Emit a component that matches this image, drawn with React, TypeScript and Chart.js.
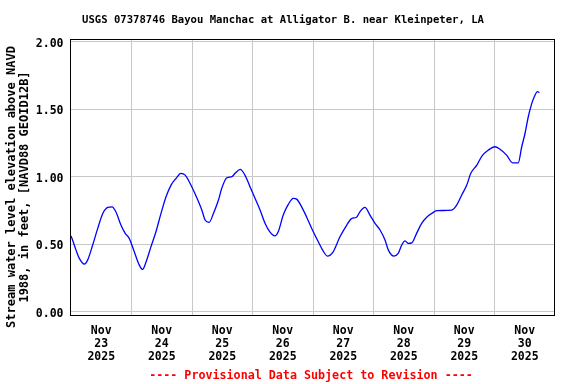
import React, { useEffect, useRef } from "react";
import { Chart, registerables } from "chart.js";

Chart.register(...registerables);

// Hours since Nov 23 2025 00:00 (local)
const hours = [
  0, 0.4, 2.0, 3.3, 5.3, 6.6, 8.6, 10.6, 12.6, 14.6, 16.3, 17.8, 19.8, 21.5, 23.1,
  25.1, 27.1, 28.4, 29.8, 31.7, 33.7, 35.7, 37.7, 39.7, 41.7, 43.6, 45.3, 46.9,
  49.3, 51.9, 53.2, 54.8, 56.5, 58.5, 59.8, 61.8, 63.8, 65.1, 67.1, 69.0, 71.0,
  73.0, 75.0, 77.0, 78.9, 80.9, 82.2, 84.2, 86.2, 88.2, 89.5, 91.5, 93.5, 95.5,
  98.1, 100.0, 101.7, 104.0, 106.7, 109.4, 111.3, 113.3, 114.6, 116.6, 118.6,
  120.6, 122.6, 124.6, 125.9, 128.1, 129.8, 131.2, 132.5, 133.8, 135.2, 137.1,
  139.1, 141.1, 143.1, 145.1, 151.0, 153.0, 155.0, 157.0, 158.6, 161.0, 163.0,
  165.6, 168.2, 170.2, 172.8, 175.2, 177.4, 178.8, 180.1, 181.4, 182.8, 184.1,
  185.0, 185.8,
];

// Gage height values (feet)
const levels = [
  0.56, 0.543, 0.456, 0.395, 0.353, 0.382, 0.494, 0.617, 0.728, 0.773, 0.777, 0.74,
  0.642, 0.58, 0.543, 0.444, 0.345, 0.313, 0.37, 0.48, 0.592, 0.728, 0.851, 0.938,
  0.988, 1.025, 1.012, 0.963, 0.87, 0.753, 0.679, 0.662, 0.728, 0.827, 0.914, 0.992,
  1.0, 1.025, 1.054, 1.012, 0.926, 0.84, 0.753, 0.654, 0.592, 0.562, 0.592, 0.716,
  0.795, 0.84, 0.834, 0.777, 0.7, 0.617, 0.518, 0.45, 0.412, 0.444, 0.555, 0.642,
  0.69, 0.7, 0.74, 0.773, 0.716, 0.654, 0.605, 0.53, 0.456, 0.412, 0.432, 0.494,
  0.525, 0.506, 0.51, 0.58, 0.654, 0.7, 0.728, 0.748, 0.753, 0.79, 0.864, 0.938,
  1.025, 1.086, 1.153, 1.198, 1.222, 1.203, 1.16, 1.103, 1.103, 1.222, 1.32, 1.444,
  1.543, 1.605, 1.63, 1.622,
];

const dayLabels = ["23", "24", "25", "26", "27", "28", "29", "30"];
const monthLabel = "Nov";
const yearLabel = "2025";
const yTickValues = [0, 0.5, 1.0, 1.5, 2.0];

const titleText = "USGS 07378746 Bayou Manchac at Alligator B. near Kleinpeter, LA";
const yTitleLines = ["Stream water level elevation above NAVD", "1988, in feet, [NAVD88 GEOID12B]"];
const footerText = "---- Provisional Data Subject to Revision ----";

const FONT = "'DejaVu Sans Mono', monospace";

export default function App() {
  const ref = useRef<HTMLCanvasElement | null>(null);

  useEffect(() => {
    if (!ref.current) return;
    document.body.style.margin = "0";

    const textPlugin = {
      id: "usgsText",
      afterDatasetsDraw(chart: any) {
        const { ctx } = chart;
        ctx.save();
        ctx.strokeStyle = "#000000";
        ctx.lineWidth = 1;
        ctx.strokeRect(70.5, 39.5, 484, 276);
        ctx.restore();
      },
      afterDraw(chart: any) {
        const { ctx } = chart;
        ctx.save();
        ctx.fillStyle = "#000000";
        ctx.textAlign = "center";
        ctx.textBaseline = "middle";
        ctx.font = `bold 10.6px ${FONT}`;
        ctx.fillText(titleText, 283, 20.5);

        ctx.save();
        ctx.translate(0, 187);
        ctx.rotate(-Math.PI / 2);
        ctx.font = `bold 12px ${FONT}`;
        ctx.fillText(yTitleLines[0], 0, 12);
        ctx.fillText(yTitleLines[1], 0, 25);
        ctx.restore();

        ctx.fillStyle = "#ff0000";
        ctx.font = `bold 11.7px ${FONT}`;
        ctx.fillText(footerText, 311, 375.5);
        ctx.restore();
      },
    };

    const chart = new Chart(ref.current, {
      type: "line",
      data: {
        datasets: [
          {
            data: hours.map((h, i) => ({ x: h, y: levels[i] })),
            borderColor: "#0000ff",
            borderWidth: 1.3,
            pointRadius: 0,
            cubicInterpolationMode: "monotone",
            fill: false,
          },
        ],
      },
      options: {
        animation: false,
        responsive: false,
        maintainAspectRatio: false,
        layout: { padding: { top: 39, right: 21, left: 0, bottom: 0 } },
        plugins: {
          legend: { display: false },
          title: { display: false },
          tooltip: { enabled: false },
        },
        scales: {
          x: {
            type: "linear",
            min: 0,
            max: 192,
            afterBuildTicks: (scale: any) => {
              const t = [];
              for (let v = 0; v <= 192; v += 12) t.push({ value: v });
              scale.ticks = t;
            },
            afterFit: (scale: any) => {
              scale.height = 69;
            },
            grid: {
              drawTicks: false,
              color: (c: any) =>
                c.tick && c.tick.value % 24 === 0 && c.tick.value > 0 && c.tick.value < 192
                  ? "#c8c8c8"
                  : "rgba(0,0,0,0)",
              lineWidth: 1,
            },
            border: { display: false },
            ticks: {
              autoSkip: false,
              maxRotation: 0,
              minRotation: 0,
              padding: 9.5,
              color: "#000000",
              font: { family: FONT, size: 11.5, weight: "bold", lineHeight: "13px" } as any,
              callback: (value: any) => {
                const v = Number(value);
                if (v % 24 === 12) {
                  const d = Math.floor(v / 24);
                  return [monthLabel, dayLabels[d], yearLabel];
                }
                return "";
              },
            },
          },
          y: {
            type: "linear",
            min: -0.0244,
            max: 2.02,
            afterBuildTicks: (scale: any) => {
              scale.ticks = yTickValues.map((v) => ({ value: v }));
            },
            afterFit: (scale: any) => {
              scale.width = 71;
            },
            grid: { drawTicks: false, color: "#c8c8c8", lineWidth: 1 },
            border: { display: false },
            ticks: {
              padding: 7.5,
              color: "#000000",
              font: { family: FONT, size: 11.5, weight: "bold", lineHeight: "4px" } as any,
              callback: (value: any) => ["", Number(value).toFixed(2)],
            },
          },
        },
      },
      plugins: [textPlugin],
    } as any);

    return () => chart.destroy();
  }, []);

  return (
    <div style={{ position: "fixed", left: 0, top: 0, width: 576, height: 384, background: "#ffffff" }}>
      <canvas ref={ref} width={576} height={384} style={{ width: 576, height: 384, display: "block" }} />
    </div>
  );
}
